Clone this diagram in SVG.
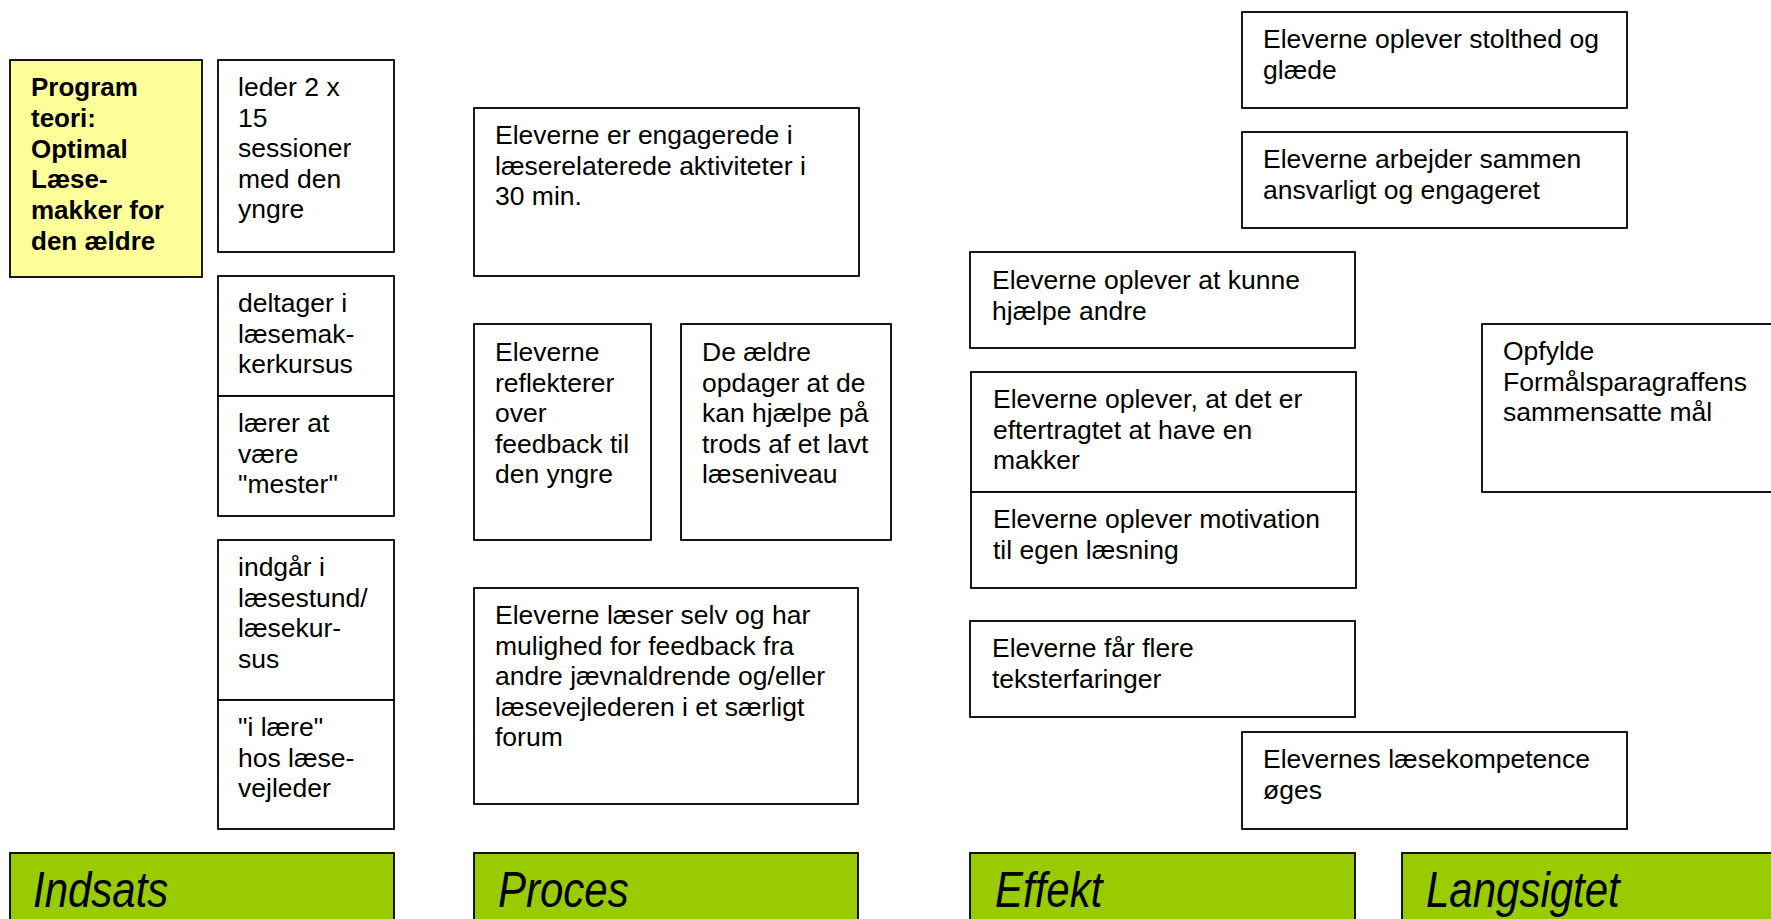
<svg xmlns="http://www.w3.org/2000/svg" width="1771" height="919" viewBox="0 0 1771 919">
<style>
.box{fill:#fff;stroke:#000;stroke-width:1.8}
.yel{fill:#FFFF99;stroke:#000;stroke-width:1.8}
.grn{fill:#99CC00;stroke:#000;stroke-width:1.8}
.t{font-family:"Liberation Sans",Arial,sans-serif;font-size:26.5px;fill:#000}
.b{font-family:"Liberation Sans",Arial,sans-serif;font-size:26px;font-weight:bold;fill:#000}
.h{font-family:"Liberation Sans",Arial,sans-serif;font-size:42px;font-style:italic;fill:#000}
</style>
<rect width="1771" height="919" fill="#fff"/>
<g id="connectors"/>

<g id="programteori">
<rect class="yel" x="10" y="60" width="192" height="217"/>
<text class="b"><tspan x="31" y="96">Program</tspan><tspan x="31" y="126.8">teori:</tspan><tspan x="31" y="157.6">Optimal</tspan><tspan x="31" y="188.4">Læse-</tspan><tspan x="31" y="219.2">makker for</tspan><tspan x="31" y="250">den ældre</tspan></text>
</g>

<g id="leder">
<rect class="box" x="218" y="60" width="176" height="192"/>
<text class="t"><tspan x="238" y="96">leder 2 x</tspan><tspan x="238" y="126.5">15</tspan><tspan x="238" y="157">sessioner</tspan><tspan x="238" y="187.5">med den</tspan><tspan x="238" y="218">yngre</tspan></text>
</g>

<g id="deltager">
<rect class="box" x="218" y="276" width="176" height="120"/>
<text class="t"><tspan x="238" y="312">deltager i</tspan><tspan x="238" y="342.5">læsemak-</tspan><tspan x="238" y="373">kerkursus</tspan></text>
</g>

<g id="laerer">
<rect class="box" x="218" y="396" width="176" height="120"/>
<text class="t"><tspan x="238" y="432">lærer at</tspan><tspan x="238" y="462.5">være</tspan><tspan x="238" y="493">"mester"</tspan></text>
</g>

<g id="indgaar">
<rect class="box" x="218" y="540" width="176" height="160"/>
<text class="t"><tspan x="238" y="576">indgår i</tspan><tspan x="238" y="606.5">læsestund/</tspan><tspan x="238" y="637">læsekur-</tspan><tspan x="238" y="667.5">sus</tspan></text>
</g>

<g id="ilaere">
<rect class="box" x="218" y="700" width="176" height="129"/>
<text class="t"><tspan x="238" y="736">"i lære"</tspan><tspan x="238" y="766.5">hos læse-</tspan><tspan x="238" y="797">vejleder</tspan></text>
</g>

<g id="engagerede">
<rect class="box" x="474" y="108" width="385" height="168"/>
<text class="t"><tspan x="495" y="144">Eleverne er engagerede i</tspan><tspan x="495" y="174.5">læserelaterede aktiviteter i</tspan><tspan x="495" y="205">30 min.</tspan></text>
</g>

<g id="reflekterer">
<rect class="box" x="474" y="324" width="177" height="216"/>
<text class="t"><tspan x="495" y="361">Eleverne</tspan><tspan x="495" y="391.5">reflekterer</tspan><tspan x="495" y="422">over</tspan><tspan x="495" y="452.5">feedback til</tspan><tspan x="495" y="483">den yngre</tspan></text>
</g>

<g id="aeldre">
<rect class="box" x="681" y="324" width="210" height="216"/>
<text class="t"><tspan x="702" y="361">De ældre</tspan><tspan x="702" y="391.5">opdager at de</tspan><tspan x="702" y="422">kan hjælpe på</tspan><tspan x="702" y="452.5">trods af et lavt</tspan><tspan x="702" y="483">læseniveau</tspan></text>
</g>

<g id="laeser">
<rect class="box" x="474" y="588" width="384" height="216"/>
<text class="t"><tspan x="495" y="624">Eleverne læser selv og har</tspan><tspan x="495" y="654.5">mulighed for feedback fra</tspan><tspan x="495" y="685">andre jævnaldrende og/eller</tspan><tspan x="495" y="715.5">læsevejlederen i et særligt</tspan><tspan x="495" y="746">forum</tspan></text>
</g>

<g id="kunne">
<rect class="box" x="970" y="252" width="385" height="96"/>
<text class="t"><tspan x="992" y="289">Eleverne oplever at kunne</tspan><tspan x="992" y="319.5">hjælpe andre</tspan></text>
</g>

<g id="eftertragtet">
<rect class="box" x="971" y="372" width="385" height="120"/>
<text class="t"><tspan x="993" y="408">Eleverne oplever, at det er</tspan><tspan x="993" y="438.5">eftertragtet at have en</tspan><tspan x="993" y="469">makker</tspan></text>
</g>

<g id="motivation">
<rect class="box" x="971" y="492" width="385" height="96"/>
<text class="t"><tspan x="993" y="528">Eleverne oplever motivation</tspan><tspan x="993" y="558.5">til egen læsning</tspan></text>
</g>

<g id="teksterfaringer">
<rect class="box" x="970" y="621" width="385" height="96"/>
<text class="t"><tspan x="992" y="657">Eleverne får flere</tspan><tspan x="992" y="687.5">teksterfaringer</tspan></text>
</g>

<g id="stolthed">
<rect class="box" x="1242" y="12" width="385" height="96"/>
<text class="t"><tspan x="1263" y="48">Eleverne oplever stolthed og</tspan><tspan x="1263" y="78.5">glæde</tspan></text>
</g>

<g id="arbejder">
<rect class="box" x="1242" y="132" width="385" height="96"/>
<text class="t"><tspan x="1263" y="168">Eleverne arbejder sammen</tspan><tspan x="1263" y="198.5">ansvarligt og engageret</tspan></text>
</g>

<g id="laesekompetence">
<rect class="box" x="1242" y="732" width="385" height="97"/>
<text class="t"><tspan x="1263" y="768">Elevernes læsekompetence</tspan><tspan x="1263" y="798.5">øges</tspan></text>
</g>

<g id="opfylde">
<rect class="box" x="1482" y="324" width="320" height="168"/>
<text class="t"><tspan x="1503" y="360">Opfylde</tspan><tspan x="1503" y="390.5">Formålsparagraffens</tspan><tspan x="1503" y="421">sammensatte mål</tspan></text>
</g>

<g id="indsats">
<rect class="grn" x="10" y="853" width="384" height="90"/>
<text class="h" transform="translate(33 907) scale(1 1.2)">Indsats</text>
</g>

<g id="proces">
<rect class="grn" x="474" y="853" width="384" height="90"/>
<text class="h" transform="translate(498 907) scale(1 1.2)">Proces</text>
</g>

<g id="effekt">
<rect class="grn" x="970" y="853" width="385" height="90"/>
<text class="h" transform="translate(995 907) scale(1 1.2)">Effekt</text>
</g>

<g id="langsigtet">
<rect class="grn" x="1402" y="853" width="400" height="90"/>
<text class="h" transform="translate(1426 907) scale(1 1.2)">Langsigtet</text>
</g>
</svg>
